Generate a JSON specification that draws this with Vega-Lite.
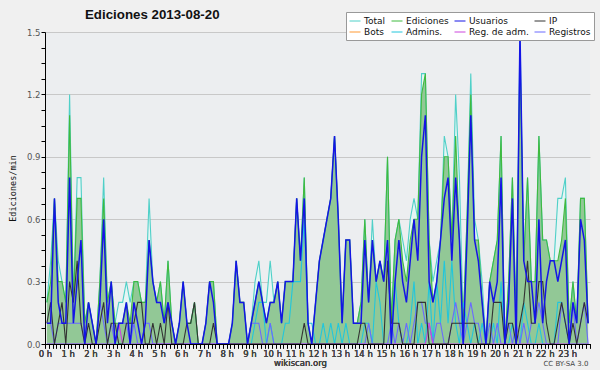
{
"$schema":"https://vega.github.io/schema/vega-lite/v6.json",
"width":545,"height":312,
"autosize":{"type":"none"},
"padding":{"left":45,"top":32,"right":10,"bottom":26},
"background":"#f0f0f0",
"config":{"view":{"fill":"#eceef0","stroke":null},"font":"DejaVu Sans"},
"title":{"text":"Ediciones  2013-08-20","anchor":"start","frame":"group","dx":40,"font":"Liberation Sans","fontSize":13.3,"fontWeight":"bold","color":"#111","offset":-10},
"data":{"values":[
{"t":5,"tot":0.2,"ed":0.2,"us":0.1,"ip":0.1,"ad":0,"rg":0.1,"ra":0},
{"t":15,"tot":0.4,"ed":0.3,"us":0.1,"ip":0.2,"ad":0,"rg":0.1,"ra":0},
{"t":25,"tot":0.7,"ed":0.7,"us":0.7,"ip":0,"ad":0,"rg":0,"ra":0},
{"t":35,"tot":0.4,"ed":0.3,"us":0.2,"ip":0.1,"ad":0,"rg":0.1,"ra":0},
{"t":45,"tot":0.3,"ed":0.3,"us":0.1,"ip":0.2,"ad":0,"rg":0.1,"ra":0},
{"t":55,"tot":0.2,"ed":0.2,"us":0.1,"ip":0,"ad":0,"rg":0.1,"ra":0},
{"t":65,"tot":1.2,"ed":1.1,"us":0.8,"ip":0.3,"ad":0,"rg":0.1,"ra":0},
{"t":75,"tot":0.2,"ed":0.2,"us":0.1,"ip":0.2,"ad":0,"rg":0.1,"ra":0},
{"t":85,"tot":0.8,"ed":0.7,"us":0.3,"ip":0.4,"ad":0,"rg":0.1,"ra":0},
{"t":95,"tot":0.8,"ed":0.7,"us":0.5,"ip":0.1,"ad":0,"rg":0.1,"ra":0},
{"t":105,"tot":0.1,"ed":0.1,"us":0,"ip":0,"ad":0,"rg":0,"ra":0},
{"t":115,"tot":0.2,"ed":0.2,"us":0.2,"ip":0.1,"ad":0,"rg":0,"ra":0},
{"t":125,"tot":0.1,"ed":0.1,"us":0.1,"ip":0,"ad":0,"rg":0,"ra":0},
{"t":135,"tot":0,"ed":0,"us":0,"ip":0,"ad":0,"rg":0,"ra":0},
{"t":145,"tot":0.3,"ed":0.3,"us":0.2,"ip":0.1,"ad":0,"rg":0.2,"ra":0},
{"t":155,"tot":0.8,"ed":0.7,"us":0.6,"ip":0.2,"ad":0,"rg":0.1,"ra":0},
{"t":165,"tot":0.2,"ed":0.2,"us":0.1,"ip":0,"ad":0,"rg":0,"ra":0},
{"t":175,"tot":0.3,"ed":0.3,"us":0.3,"ip":0.1,"ad":0,"rg":0.1,"ra":0},
{"t":185,"tot":0.1,"ed":0.1,"us":0,"ip":0.1,"ad":0,"rg":0,"ra":0},
{"t":195,"tot":0.2,"ed":0.1,"us":0.1,"ip":0,"ad":0,"rg":0.1,"ra":0.1},
{"t":205,"tot":0.2,"ed":0.1,"us":0.1,"ip":0,"ad":0,"rg":0.1,"ra":0},
{"t":215,"tot":0.3,"ed":0.2,"us":0.2,"ip":0.1,"ad":0,"rg":0.1,"ra":0},
{"t":225,"tot":0.2,"ed":0.1,"us":0,"ip":0.1,"ad":0,"rg":0,"ra":0},
{"t":235,"tot":0.3,"ed":0.3,"us":0.2,"ip":0.1,"ad":0,"rg":0.1,"ra":0},
{"t":245,"tot":0.3,"ed":0.3,"us":0.1,"ip":0.2,"ad":0,"rg":0,"ra":0},
{"t":255,"tot":0.2,"ed":0.2,"us":0,"ip":0.2,"ad":0,"rg":0,"ra":0},
{"t":265,"tot":0.2,"ed":0.2,"us":0.1,"ip":0,"ad":0,"rg":0.1,"ra":0},
{"t":275,"tot":0.7,"ed":0.5,"us":0.5,"ip":0,"ad":0,"rg":0.1,"ra":0},
{"t":285,"tot":0.3,"ed":0.3,"us":0.3,"ip":0.1,"ad":0,"rg":0,"ra":0},
{"t":295,"tot":0.2,"ed":0.2,"us":0.2,"ip":0,"ad":0,"rg":0,"ra":0},
{"t":305,"tot":0.3,"ed":0.3,"us":0.2,"ip":0.1,"ad":0,"rg":0,"ra":0},
{"t":315,"tot":0.1,"ed":0.1,"us":0.1,"ip":0,"ad":0,"rg":0,"ra":0},
{"t":325,"tot":0.4,"ed":0.4,"us":0.2,"ip":0.2,"ad":0,"rg":0,"ra":0},
{"t":335,"tot":0.1,"ed":0.1,"us":0.1,"ip":0,"ad":0,"rg":0,"ra":0},
{"t":345,"tot":0,"ed":0,"us":0,"ip":0,"ad":0,"rg":0,"ra":0},
{"t":355,"tot":0.1,"ed":0.1,"us":0.1,"ip":0,"ad":0,"rg":0,"ra":0},
{"t":365,"tot":0.3,"ed":0.3,"us":0.3,"ip":0,"ad":0,"rg":0,"ra":0},
{"t":375,"tot":0.1,"ed":0.1,"us":0.1,"ip":0.1,"ad":0,"rg":0,"ra":0},
{"t":385,"tot":0.1,"ed":0.1,"us":0,"ip":0.1,"ad":0,"rg":0,"ra":0},
{"t":395,"tot":0.2,"ed":0.2,"us":0,"ip":0.2,"ad":0,"rg":0,"ra":0},
{"t":405,"tot":0,"ed":0,"us":0,"ip":0,"ad":0,"rg":0,"ra":0},
{"t":415,"tot":0,"ed":0,"us":0,"ip":0,"ad":0,"rg":0,"ra":0},
{"t":425,"tot":0.1,"ed":0.1,"us":0.1,"ip":0,"ad":0,"rg":0,"ra":0},
{"t":435,"tot":0.3,"ed":0.3,"us":0.3,"ip":0,"ad":0,"rg":0,"ra":0},
{"t":445,"tot":0.3,"ed":0.3,"us":0.2,"ip":0.1,"ad":0,"rg":0,"ra":0},
{"t":455,"tot":0,"ed":0,"us":0,"ip":0,"ad":0,"rg":0,"ra":0},
{"t":465,"tot":0,"ed":0,"us":0,"ip":0,"ad":0,"rg":0,"ra":0},
{"t":475,"tot":0,"ed":0,"us":0,"ip":0,"ad":0,"rg":0,"ra":0},
{"t":485,"tot":0,"ed":0,"us":0,"ip":0,"ad":0,"rg":0,"ra":0},
{"t":495,"tot":0.1,"ed":0.1,"us":0.1,"ip":0,"ad":0,"rg":0,"ra":0},
{"t":505,"tot":0.4,"ed":0.4,"us":0.4,"ip":0,"ad":0,"rg":0,"ra":0},
{"t":515,"tot":0.2,"ed":0.2,"us":0.2,"ip":0,"ad":0,"rg":0,"ra":0},
{"t":525,"tot":0.2,"ed":0.2,"us":0.2,"ip":0,"ad":0,"rg":0,"ra":0},
{"t":535,"tot":0,"ed":0,"us":0,"ip":0,"ad":0,"rg":0,"ra":0},
{"t":545,"tot":0.1,"ed":0.1,"us":0.1,"ip":0,"ad":0,"rg":0.1,"ra":0},
{"t":555,"tot":0.3,"ed":0.2,"us":0.2,"ip":0,"ad":0.1,"rg":0.1,"ra":0},
{"t":565,"tot":0.4,"ed":0.3,"us":0.3,"ip":0,"ad":0.2,"rg":0.1,"ra":0},
{"t":575,"tot":0.2,"ed":0.2,"us":0.2,"ip":0,"ad":0.2,"rg":0,"ra":0},
{"t":585,"tot":0.2,"ed":0.1,"us":0.1,"ip":0,"ad":0,"rg":0,"ra":0},
{"t":595,"tot":0.4,"ed":0.2,"us":0.2,"ip":0,"ad":0.1,"rg":0.1,"ra":0},
{"t":605,"tot":0.2,"ed":0.2,"us":0.2,"ip":0,"ad":0,"rg":0,"ra":0},
{"t":615,"tot":0.3,"ed":0.3,"us":0.3,"ip":0,"ad":0,"rg":0,"ra":0},
{"t":625,"tot":0.1,"ed":0.1,"us":0.1,"ip":0,"ad":0,"rg":0,"ra":0},
{"t":635,"tot":0.3,"ed":0.3,"us":0.3,"ip":0,"ad":0.1,"rg":0,"ra":0},
{"t":645,"tot":0.3,"ed":0.3,"us":0.3,"ip":0,"ad":0.1,"rg":0,"ra":0},
{"t":655,"tot":0.3,"ed":0.3,"us":0.3,"ip":0,"ad":0.3,"rg":0,"ra":0},
{"t":665,"tot":0.7,"ed":0.7,"us":0.7,"ip":0,"ad":0.3,"rg":0,"ra":0},
{"t":675,"tot":0.4,"ed":0.4,"us":0.4,"ip":0,"ad":0.3,"rg":0,"ra":0},
{"t":685,"tot":0.8,"ed":0.8,"us":0.7,"ip":0.1,"ad":0.6,"rg":0,"ra":0},
{"t":695,"tot":0.1,"ed":0.1,"us":0.1,"ip":0,"ad":0.1,"rg":0,"ra":0},
{"t":705,"tot":0,"ed":0,"us":0,"ip":0,"ad":0.1,"rg":0,"ra":0},
{"t":715,"tot":0.2,"ed":0.2,"us":0.2,"ip":0,"ad":0,"rg":0,"ra":0},
{"t":725,"tot":0.4,"ed":0.4,"us":0.4,"ip":0,"ad":0,"rg":0,"ra":0},
{"t":735,"tot":0.5,"ed":0.5,"us":0.5,"ip":0,"ad":0.1,"rg":0,"ra":0},
{"t":745,"tot":0.6,"ed":0.6,"us":0.6,"ip":0,"ad":0,"rg":0,"ra":0},
{"t":755,"tot":0.7,"ed":0.7,"us":0.7,"ip":0,"ad":0.1,"rg":0,"ra":0},
{"t":765,"tot":1.0,"ed":1.0,"us":1.0,"ip":0,"ad":0,"rg":0,"ra":0},
{"t":775,"tot":0.6,"ed":0.6,"us":0.6,"ip":0,"ad":0.1,"rg":0,"ra":0},
{"t":785,"tot":0.1,"ed":0.1,"us":0.1,"ip":0,"ad":0,"rg":0,"ra":0},
{"t":795,"tot":0.5,"ed":0.5,"us":0.5,"ip":0,"ad":0.1,"rg":0,"ra":0},
{"t":805,"tot":0.5,"ed":0.5,"us":0.5,"ip":0,"ad":0,"rg":0,"ra":0},
{"t":815,"tot":0.1,"ed":0.1,"us":0.1,"ip":0,"ad":0,"rg":0,"ra":0},
{"t":825,"tot":0.1,"ed":0.1,"us":0.1,"ip":0,"ad":0,"rg":0,"ra":0},
{"t":835,"tot":0.2,"ed":0.2,"us":0.1,"ip":0.1,"ad":0,"rg":0,"ra":0},
{"t":845,"tot":0.6,"ed":0.6,"us":0.5,"ip":0.1,"ad":0.1,"rg":0,"ra":0},
{"t":855,"tot":0.2,"ed":0.2,"us":0.2,"ip":0,"ad":0.1,"rg":0.1,"ra":0},
{"t":865,"tot":0.6,"ed":0.5,"us":0.5,"ip":0,"ad":0,"rg":0,"ra":0},
{"t":875,"tot":0.3,"ed":0.3,"us":0.3,"ip":0,"ad":0.3,"rg":0,"ra":0},
{"t":885,"tot":0.4,"ed":0.4,"us":0.4,"ip":0,"ad":0.2,"rg":0,"ra":0},
{"t":895,"tot":0.3,"ed":0.3,"us":0.3,"ip":0,"ad":0,"rg":0,"ra":0},
{"t":905,"tot":0.9,"ed":0.9,"us":0.5,"ip":0.4,"ad":0,"rg":0,"ra":0},
{"t":915,"tot":0.1,"ed":0.1,"us":0,"ip":0.1,"ad":0,"rg":0.1,"ra":0},
{"t":925,"tot":0.5,"ed":0.5,"us":0.3,"ip":0.1,"ad":0.3,"rg":0,"ra":0},
{"t":935,"tot":0.6,"ed":0.6,"us":0.5,"ip":0.1,"ad":0.1,"rg":0.1,"ra":0},
{"t":945,"tot":0.5,"ed":0.4,"us":0.3,"ip":0,"ad":0,"rg":0,"ra":0},
{"t":955,"tot":0.4,"ed":0.3,"us":0.2,"ip":0,"ad":0,"rg":0.1,"ra":0},
{"t":965,"tot":0.6,"ed":0.5,"us":0.4,"ip":0,"ad":0.1,"rg":0,"ra":0},
{"t":975,"tot":0.7,"ed":0.6,"us":0.6,"ip":0,"ad":0.3,"rg":0.1,"ra":0},
{"t":985,"tot":0.6,"ed":0.6,"us":0.4,"ip":0.2,"ad":0,"rg":0.2,"ra":0},
{"t":995,"tot":1.3,"ed":1.2,"us":0.9,"ip":0.2,"ad":0.1,"rg":0.2,"ra":0},
{"t":1005,"tot":1.3,"ed":1.3,"us":1.1,"ip":0.2,"ad":0,"rg":0.1,"ra":0},
{"t":1015,"tot":0.5,"ed":0.5,"us":0.3,"ip":0,"ad":0.3,"rg":0.1,"ra":0.1},
{"t":1025,"tot":0.3,"ed":0.2,"us":0.2,"ip":0,"ad":0,"rg":0,"ra":0},
{"t":1035,"tot":0.4,"ed":0.3,"us":0.3,"ip":0,"ad":0.3,"rg":0.1,"ra":0},
{"t":1045,"tot":0.5,"ed":0.5,"us":0.5,"ip":0,"ad":0.1,"rg":0.1,"ra":0},
{"t":1055,"tot":1.0,"ed":0.9,"us":0.7,"ip":0,"ad":0.4,"rg":0,"ra":0},
{"t":1065,"tot":0.9,"ed":0.9,"us":0.8,"ip":0,"ad":0.1,"rg":0,"ra":0},
{"t":1075,"tot":0.5,"ed":0.5,"us":0.4,"ip":0.1,"ad":0.4,"rg":0.1,"ra":0},
{"t":1085,"tot":1.2,"ed":1.0,"us":0.8,"ip":0.1,"ad":0.1,"rg":0.2,"ra":0},
{"t":1095,"tot":0.8,"ed":0.5,"us":0.5,"ip":0.1,"ad":0,"rg":0.1,"ra":0},
{"t":1105,"tot":0.1,"ed":0.1,"us":0,"ip":0.1,"ad":0.2,"rg":0,"ra":0},
{"t":1115,"tot":0.6,"ed":0.6,"us":0.5,"ip":0.1,"ad":0.1,"rg":0.1,"ra":0},
{"t":1125,"tot":1.3,"ed":1.2,"us":1.1,"ip":0.1,"ad":0,"rg":0.2,"ra":0},
{"t":1135,"tot":0.6,"ed":0.5,"us":0.5,"ip":0.1,"ad":0.1,"rg":0.1,"ra":0},
{"t":1145,"tot":0.5,"ed":0.5,"us":0.4,"ip":0,"ad":0,"rg":0.1,"ra":0},
{"t":1155,"tot":0.3,"ed":0.2,"us":0.2,"ip":0,"ad":0.1,"rg":0,"ra":0},
{"t":1165,"tot":0,"ed":0,"us":0,"ip":0,"ad":0,"rg":0,"ra":0},
{"t":1175,"tot":0.3,"ed":0.3,"us":0.3,"ip":0,"ad":0,"rg":0.1,"ra":0},
{"t":1185,"tot":0.4,"ed":0.4,"us":0.2,"ip":0.2,"ad":0.1,"rg":0,"ra":0},
{"t":1195,"tot":0.5,"ed":0.5,"us":0.3,"ip":0.2,"ad":0,"rg":0.1,"ra":0},
{"t":1205,"tot":1.0,"ed":1.0,"us":0.8,"ip":0.2,"ad":0.3,"rg":0,"ra":0},
{"t":1215,"tot":0,"ed":0,"us":0,"ip":0,"ad":0,"rg":0,"ra":0},
{"t":1225,"tot":0.3,"ed":0.3,"us":0.2,"ip":0.1,"ad":0,"rg":0.1,"ra":0},
{"t":1235,"tot":0.8,"ed":0.8,"us":0.7,"ip":0.1,"ad":0.1,"rg":0,"ra":0},
{"t":1245,"tot":0.1,"ed":0.1,"us":0,"ip":0,"ad":0,"rg":0.1,"ra":0},
{"t":1255,"tot":1.5,"ed":1.4,"us":1.5,"ip":0.1,"ad":0,"rg":0,"ra":0},
{"t":1265,"tot":0.4,"ed":0.4,"us":0.4,"ip":0.2,"ad":0.2,"rg":0.1,"ra":0},
{"t":1275,"tot":0.8,"ed":0.8,"us":0.3,"ip":0.4,"ad":0.1,"rg":0,"ra":0},
{"t":1285,"tot":0.3,"ed":0.3,"us":0.3,"ip":0.1,"ad":0,"rg":0.1,"ra":0},
{"t":1295,"tot":0.3,"ed":0.3,"us":0.1,"ip":0.1,"ad":0,"rg":0.1,"ra":0},
{"t":1305,"tot":1.0,"ed":1.0,"us":0.6,"ip":0.3,"ad":0.1,"rg":0.2,"ra":0},
{"t":1315,"tot":0.5,"ed":0.5,"us":0.1,"ip":0.3,"ad":0,"rg":0.1,"ra":0},
{"t":1325,"tot":0.5,"ed":0.5,"us":0.3,"ip":0.1,"ad":0,"rg":0,"ra":0},
{"t":1335,"tot":0.4,"ed":0.4,"us":0.4,"ip":0,"ad":0,"rg":0,"ra":0},
{"t":1345,"tot":0.4,"ed":0.4,"us":0.4,"ip":0,"ad":0,"rg":0,"ra":0},
{"t":1355,"tot":0.7,"ed":0.4,"us":0.3,"ip":0.1,"ad":0.2,"rg":0,"ra":0},
{"t":1365,"tot":0.7,"ed":0.5,"us":0.4,"ip":0.2,"ad":0.2,"rg":0.2,"ra":0},
{"t":1375,"tot":0.8,"ed":0.7,"us":0.5,"ip":0.1,"ad":0.1,"rg":0.1,"ra":0},
{"t":1385,"tot":0.1,"ed":0.1,"us":0,"ip":0,"ad":0,"rg":0,"ra":0},
{"t":1395,"tot":0.3,"ed":0.3,"us":0.2,"ip":0.1,"ad":0,"rg":0.2,"ra":0},
{"t":1405,"tot":0.1,"ed":0.1,"us":0.1,"ip":0,"ad":0,"rg":0,"ra":0},
{"t":1415,"tot":0.7,"ed":0.7,"us":0.6,"ip":0.1,"ad":0,"rg":0.1,"ra":0},
{"t":1425,"tot":0.7,"ed":0.7,"us":0.5,"ip":0.2,"ad":0,"rg":0.2,"ra":0},
{"t":1435,"tot":0.1,"ed":0.1,"us":0.1,"ip":0.1,"ad":0,"rg":0,"ra":0}
]},
"transform":[{"fold":["tot","ed","ad","rg","ra","ip","us"],"as":["serie","v"]}],
"encoding":{
  "x":{"field":"t","type":"quantitative","scale":{"domain":[0,1440],"nice":false,"zero":false},
    "axis":{"orient":"bottom","tickCount":144,"labelExpr":"datum.value % 60 === 0 && datum.value < 1440 ? (datum.value/60) + ' h' : ''","labelOverlap":false,"labelFlush":false,"labelFontSize":8.5,"labelFontWeight":"normal","labelColor":"#444","labelPadding":1,"tickSize":4,"tickColor":"#000","domainColor":"#000","grid":false,"zindex":1,
      "title":"wikiscan.org","titleFontSize":8.5,"titleFontWeight":"normal","titleColor":"#444","titleX":255,"titleY":21,"titleAlign":"center","titleBaseline":"alphabetic","titleAnchor":null}},
  "y":{"field":"v","type":"quantitative","scale":{"domain":[0,1.5],"nice":false},
    "axis":{"values":[0,0.075,0.15,0.225,0.3,0.375,0.45,0.525,0.6,0.675,0.75,0.825,0.9,0.975,1.05,1.125,1.2,1.275,1.35,1.425,1.5],
      "labelExpr":"indexof([0,0.3,0.6,0.9,1.2,1.5], datum.value) >= 0 ? format(datum.value, '.1f') : ''",
      "labelFontSize":8.5,"labelFontWeight":"normal","labelColor":"#555","labelPadding":1,"labelOverlap":false,"labelFlush":false,"tickSize":4,"tickColor":"#000","domainColor":"#000",
      "grid":true,"gridColor":"#c8c8c8","gridOpacity":{"condition":{"test":"indexof([0.3,0.6,0.9,1.2,1.5], datum.value) >= 0","value":1},"value":0},
      "title":"Ediciones/min","titleFont":"DejaVu Sans Mono","titleFontSize":8.5,"titleFontWeight":"normal","titleColor":"#111","titleX":-33,"titleY":156,"titleAngle":-90,"titleAlign":"center","titleBaseline":"middle","titleAnchor":null}}
},
"layer":[
  {"transform":[{"filter":"datum.serie == 'tot'"}],"mark":{"type":"area","color":"#e4f5f4","opacity":0.9}},
  {"transform":[{"filter":"datum.serie == 'ed'"}],"mark":{"type":"area","color":"#92c896","opacity":1}},
  {"mark":{"type":"line","strokeJoin":"miter"},
   "encoding":{
     "color":{"field":"serie","type":"nominal",
       "scale":{"domain":["tot","ed","us","ip","bo","ad","ra","rg"],"range":["#4fd0c8","#3fba3f","#1414e6","#333333","#ff9933","#22c6dc","#cc44dd","#6a6aff"]},
       "legend":{"orient":"none","legendX":301,"legendY":-20,"columns":4,"direction":"horizontal","title":null,
         "symbolType":"stroke","symbolSize":121,"symbolStrokeWidth":1,"labelFontSize":9,"labelFontWeight":"normal","labelColor":"#111","labelOffset":3,
         "columnPadding":3,"rowPadding":0,"padding":3,"fillColor":"#ffffff","strokeColor":"#999999",
         "labelExpr":"datum.label == 'tot' ? 'Total' : datum.label == 'ed' ? 'Ediciones' : datum.label == 'us' ? 'Usuarios' : datum.label == 'ip' ? 'IP' : datum.label == 'bo' ? 'Bots' : datum.label == 'ad' ? 'Admins.' : datum.label == 'ra' ? 'Reg. de adm.' : 'Registros'"}},
     "strokeWidth":{"condition":{"test":"datum.serie == 'us'","value":1.5},"value":1.1}
   }},
  {"transform":[{"filter":"datum.serie == 'tot'"}],"mark":{"type":"line","opacity":0},
   "encoding":{"x":{"field":"t","type":"quantitative","axis":{"orient":"bottom","labels":false,"ticks":false,"domain":false,"grid":false,"title":"CC BY-SA 3.0","titleFontSize":7,"titleFontWeight":"normal","titleColor":"#444","titleX":543,"titleY":21,"titleAlign":"right","titleBaseline":"alphabetic","titleAnchor":null}}}}
],
"resolve":{"axis":{"x":"independent"}}
}
